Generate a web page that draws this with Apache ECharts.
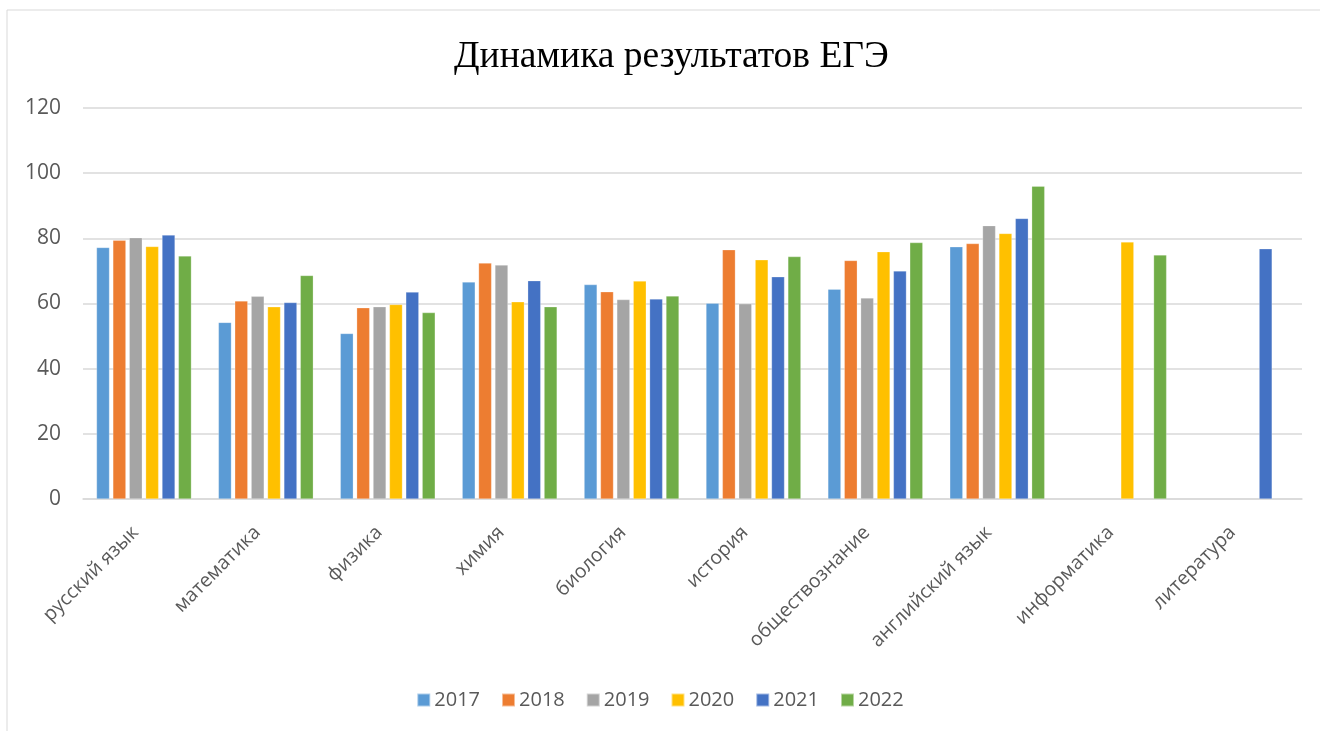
<!DOCTYPE html>
<html>
<head>
<meta charset="utf-8">
<script src="https://cdn.jsdelivr.net/npm/echarts@6/dist/echarts.min.js"></script>
<style>
    html, body { margin: 0; padding: 0; background: #fff; }
    #chart { width: 1320px; height: 731px; }
</style>
</head>
<body>
<div id="chart"></div>
<script>
const subjects = ['русский язык', 'математика', 'физика', 'химия', 'биология',
    'история', 'обществознание', 'английский язык', 'информатика', 'литература'];
const years = ['2017', '2018', '2019', '2020', '2021', '2022'];

const y2017 = [77.2, 54.2, 50.8, 66.6, 65.8, 60.1, 64.4, 77.4, null, null];
const y2018 = [79.4, 60.8, 58.7, 72.4, 63.6, 76.5, 73.2, 78.4, null, null];
const y2019 = [80.2, 62.2, 59.0, 71.8, 61.2, 59.9, 61.7, 83.9, null, null];
const y2020 = [77.5, 59.0, 59.7, 60.5, 66.9, 73.4, 75.9, 81.5, 78.9, null];
const y2021 = [81.0, 60.3, 63.5, 67.0, 61.4, 68.2, 70.0, 86.1, null, 76.8];
const y2022 = [74.6, 68.6, 57.2, 59.0, 62.3, 74.4, 78.7, 96.0, 74.9, null];

const yearValues = [y2017, y2018, y2019, y2020, y2021, y2022];
const colors = ['#5B9BD5', '#ED7D31', '#A5A5A5', '#FFC000', '#4472C4', '#70AD47'];

var chartDom = document.getElementById('chart');
var myChart = echarts.init(chartDom);
var option;

option = {
    animation: false,
    color: colors,
    title: {
        text: 'Динамика результатов ЕГЭ',
        left: 449,
        top: 33,
        textStyle: {
            fontFamily: 'Liberation Serif',
            fontWeight: 'normal',
            fontSize: 37.5,
            color: '#000'
        }
    },
    graphic: [
        {
            type: 'rect',
            shape: { x: 7, y: 10, width: 1340, height: 760 },
            style: { fill: 'none', stroke: '#d9d9d9', lineWidth: 1 },
            silent: true
        }
    ],
    legend: {
        bottom: 16,
        left: 'center',
        itemWidth: 13,
        itemHeight: 13,
        itemGap: 21,
        icon: 'rect',
        textStyle: {
            fontFamily: 'Open Sans',
            fontSize: 20,
            color: '#595959',
            padding: [0, 0, 0, -1]
        },
        data: years
    },
    grid: {
        left: 83,
        right: 18,
        top: 108,
        bottom: 232
    },
    xAxis: {
        type: 'category',
        data: subjects,
        axisLine: { lineStyle: { color: '#d9d9d9', width: 1.5 } },
        axisTick: { show: false },
        axisLabel: {
            rotate: 45,
            interval: 0,
            margin: 22,
            padding: [0, 12, 0, 0],
            fontFamily: 'Open Sans',
            fontSize: 19.5,
            color: '#595959'
        }
    },
    yAxis: {
        type: 'value',
        min: 0,
        max: 120,
        interval: 20,
        axisLine: { show: false },
        axisTick: { show: false },
        axisLabel: {
            margin: 22,
            fontFamily: 'Open Sans',
            fontSize: 21,
            color: '#595959'
        },
        splitLine: { lineStyle: { color: '#d9d9d9', width: 1.5 } }
    },
    series: years.map(function (year, i) {
        return {
            name: year,
            type: 'bar',
            data: yearValues[i],
            barWidth: 13,
            barGap: '26%',
            itemStyle: { borderColor: 'rgba(255,255,255,0.5)', borderWidth: 0.5 }
        };
    })
};

option && myChart.setOption(option);
</script>
</body>
</html>
